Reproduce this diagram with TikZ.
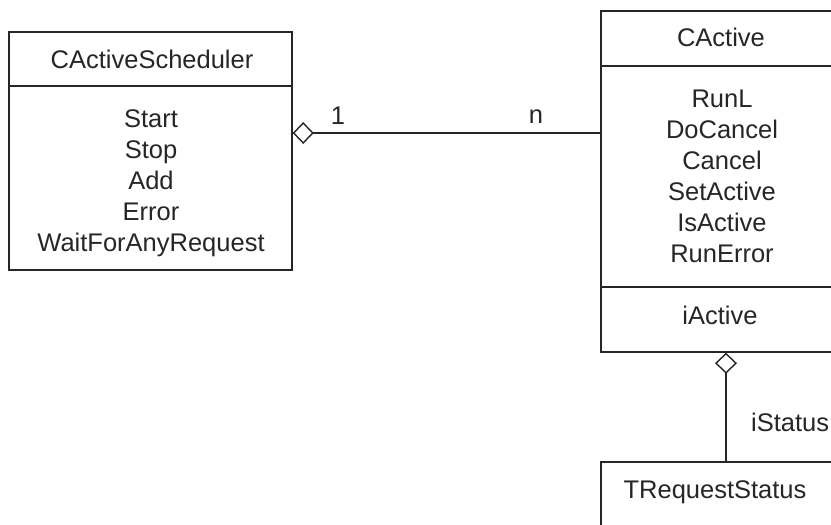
\documentclass[tikz,border=0pt]{standalone}
\usepackage{fontspec}
\setmainfont{Liberation Sans}
\usetikzlibrary{arrows.meta}

\begin{document}
\begin{tikzpicture}[x=1pt,y=-1pt,
  ink/.style={black!85},
  compartment/.style={draw=black!85, line width=1.4pt, inner sep=0pt},
  label/.style={text=black!85, inner sep=0pt,
    font=\fontsize{25.5}{31}\selectfont},
  oplist/.style={label, align=center},
  link/.style={draw=black!85, line width=1.4pt},
  aggregation/.style={link, {Diamond[open, length=21pt, width=22pt, line width=1.4pt]}-}
]
\useasboundingbox (0,0) rectangle (831,525);
\clip (0,0) rectangle (831,525);
\fill[white] (0,0) rectangle (831,525);

% ---- CActiveScheduler class ----
\node[compartment, minimum width=283pt, minimum height=54pt]  (schedHead) at (150.5,59) {};
\node[compartment, minimum width=283pt, minimum height=184pt] (schedOps)  at (150.5,178) {};
\node[label]  (schedName) at (152,59) {CActiveScheduler};
\node[oplist] (schedList) at (151,183.5)
  {Start\\Stop\\Add\\Error\\WaitForAnyRequest};

% ---- CActive class (runs past the right edge) ----
\node[compartment, minimum width=242pt, minimum height=55pt]  (activeHead) at (722,38.5) {};
\node[compartment, minimum width=242pt, minimum height=221pt] (activeOps)  at (722,176.5) {};
\node[compartment, minimum width=242pt, minimum height=65pt]  (activeAttr) at (722,319.5) {};
\node[label]  (activeName) at (721,37) {CActive};
\node[oplist] (activeList) at (722,176.5)
  {RunL\\DoCancel\\Cancel\\SetActive\\IsActive\\RunError};
\node[label]  (activeField) at (720,315) {iActive};

% ---- TRequestStatus class (runs past the lower edge) ----
\node[compartment, minimum width=242pt, minimum height=80pt] (statusHead) at (722,502) {};
\node[label] (statusName) at (715,492.5) {TRequestStatus};

% ---- associations ----
\draw[aggregation] (schedOps.east |- 0,133) -- (activeOps.west |- 0,133);
\node[label] (multOne)  at (338,116) {1};
\node[label] (multMany) at (536,117) {n};

\draw[aggregation] (activeAttr.south -| 726,0) -- (statusHead.north -| 726,0);
\node[label, anchor=west] (statusRole) at (751,422) {iStatus};
\end{tikzpicture}
\end{document}
